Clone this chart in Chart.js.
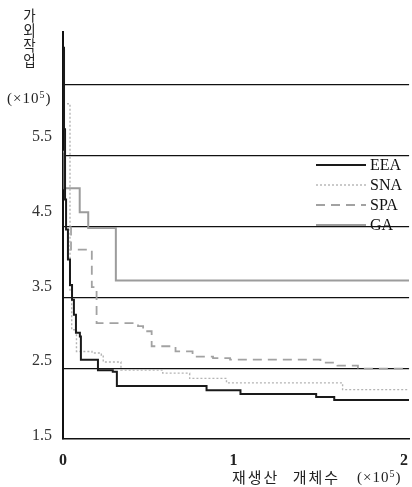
<!DOCTYPE html>
<html>
<head>
<meta charset="utf-8">
<script src="https://cdn.jsdelivr.net/npm/chart.js@4.4.1/dist/chart.umd.min.js"></script>
<style>
  html, body { margin: 0; padding: 0; background: #fff; }
  #wrap { position: relative; width: 412px; height: 487px; }
  #wrap canvas { position: absolute; left: 0; top: 0; }
  .txt { position: absolute; color: #222; white-space: nowrap; line-height: 1; }
  .ser { font-family: 'Liberation Serif', 'DejaVu Serif', serif; font-size: 15px; letter-spacing: 1px; }
  .kor { font-family: 'Noto Sans CJK KR', sans-serif; font-size: 15px; }
  #ytitle { left: 22px; top: 8px; writing-mode: vertical-rl; text-orientation: upright; transform: scaleX(0.9); }
  #yunit { left: 7px; top: 90px; }
  #xtitle { left: 232px; top: 469px; letter-spacing: 2px; word-spacing: 8px; }
  #xunit { left: 357px; top: 469px; }
  sup { font-size: 10px; vertical-align: 5px; }
</style>
</head>
<body>
<div id="wrap">
  <canvas id="chart" width="412" height="487"></canvas>
  <div class="txt kor" id="ytitle">가외작업</div>
  <div class="txt ser" id="yunit">(×10<sup>5</sup>)</div>
  <div class="txt kor" id="xtitle">재생산 개체수</div>
  <div class="txt ser" id="xunit">(×10<sup>5</sup>)</div>
</div>
<script>
// ── 데이터 (x: ×10^5 개체, y: ×10^5) ────────────────────────────────
var xTicks  = [0, 1, 2];
var yLabels = [1.5, 2.5, 3.5, 4.5, 5.5];
var yRules  = [2.40, 3.35, 4.30, 5.25, 6.20];

var eeaX = [0, 0.006, 0.012, 0.018, 0.029, 0.041, 0.053, 0.064, 0.076, 0.099, 0.105, 0.205, 0.292, 0.316, 0.842, 1.041, 1.485, 1.591, 2.03];
var eeaY = [6.69, 5.60, 4.66, 4.26, 3.86, 3.52, 3.32, 3.12, 2.88, 2.83, 2.52, 2.38, 2.36, 2.17, 2.11, 2.06, 2.02, 1.98, 1.98];

var snaX = [0, 0.041, 0.051, 0.079, 0.17, 0.225, 0.236, 0.34, 0.585, 0.743, 0.959, 1.64, 2.03];
var snaY = [5.94, 3.45, 2.92, 2.63, 2.61, 2.58, 2.49, 2.38, 2.34, 2.27, 2.21, 2.12, 2.12];

var spaX = [0.047, 0.047, 0.169, 0.197, 0.44, 0.47, 0.52, 0.66, 0.76, 0.88, 0.98, 1.51, 1.61, 1.73, 2.03];
var spaY = [4.30, 3.99, 3.49, 3.01, 2.97, 2.90, 2.70, 2.63, 2.56, 2.54, 2.52, 2.48, 2.44, 2.40, 2.40];

var gaX = [0, 0.008, 0.098, 0.148, 0.31, 2.03];
var gaY = [5.30, 4.81, 4.49, 4.28, 3.58, 3.58];

function pts(xs, ys) {
    return xs.map(function(x, i) { return { x: x, y: ys[i] }; });
}

// ── 범례 (플롯 안쪽 오른쪽) ───────────────────────────────────────────
var innerLegend = {
    id: 'innerLegend',
    afterDatasetsDraw: function(chart) {
        var ctx = chart.ctx;
        var x0 = 316, x1 = 366, y0 = 165, gap = 20;
        ctx.save();
        ctx.font = '16px "Liberation Serif", serif';
        ctx.textBaseline = 'middle';
        chart.data.datasets.forEach(function(ds, i) {
            var y = y0 + i * gap;
            ctx.strokeStyle = ds.borderColor;
            ctx.lineWidth = ds.borderWidth;
            ctx.setLineDash(ds.borderDash || []);
            ctx.beginPath();
            ctx.moveTo(x0, y);
            ctx.lineTo(x1, y);
            ctx.stroke();
            ctx.fillStyle = '#111';
            ctx.fillText(ds.label, x1 + 4, y + 1);
        });
        ctx.restore();
    }
};

new Chart(document.getElementById('chart'), {
    type: 'line',
    data: {
        datasets: [
            { label: 'EEA', data: pts(eeaX, eeaY), borderColor: '#1a1a1a', borderWidth: 2, borderDash: [] },
            { label: 'SNA', data: pts(snaX, snaY), borderColor: '#b4b4b4', borderWidth: 1.4, borderDash: [2, 2] },
            { label: 'SPA', data: pts(spaX, spaY), borderColor: '#a2a2a2', borderWidth: 1.8, borderDash: [9, 6] },
            { label: 'GA',  data: pts(gaX, gaY),  borderColor: '#9c9c9c', borderWidth: 2, borderDash: [] }
        ].map(function(d) {
            d.stepped = 'before';
            d.pointRadius = 0;
            d.fill = false;
            return d;
        })
    },
    options: {
        responsive: false,
        animation: false,
        devicePixelRatio: 1,
        layout: { padding: { top: 32, right: 2, left: 0, bottom: 0 } },
        plugins: { legend: { display: false }, tooltip: { enabled: false } },
        scales: {
            x: {
                type: 'linear',
                min: 0,
                max: 2.03,
                afterBuildTicks: function(s) { s.ticks = xTicks.map(function(v) { return { value: v }; }); },
                afterFit: function(s) { s.height = 48; },
                grid: { display: false },
                border: { display: true, color: '#111', width: 1.5 },
                ticks: {
                    color: '#222',
                    padding: 4,
                    maxRotation: 0,
                    font: { family: '"Liberation Serif", serif', size: 16, weight: 'bold' },
                    callback: function(v) { return String(v); }
                }
            },
            y: {
                type: 'linear',
                min: 1.46,
                max: 6.9,
                afterBuildTicks: function(s) {
                    s.ticks = yLabels.concat(yRules).sort().map(function(v) { return { value: v }; });
                },
                afterFit: function(s) { s.width = 63; },
                grid: {
                    drawTicks: false,
                    lineWidth: 1.3,
                    color: function(c) { return yRules.indexOf(c.tick.value) >= 0 ? '#111' : 'rgba(0,0,0,0)'; }
                },
                border: { display: true, color: '#111', width: 2 },
                ticks: {
                    color: '#333',
                    padding: 11,
                    font: { family: '"Liberation Serif", serif', size: 16 },
                    callback: function(v) { return yLabels.indexOf(v) >= 0 ? v.toFixed(1) : ''; }
                }
            }
        }
    },
    plugins: [innerLegend]
});
</script>
</body>
</html>
